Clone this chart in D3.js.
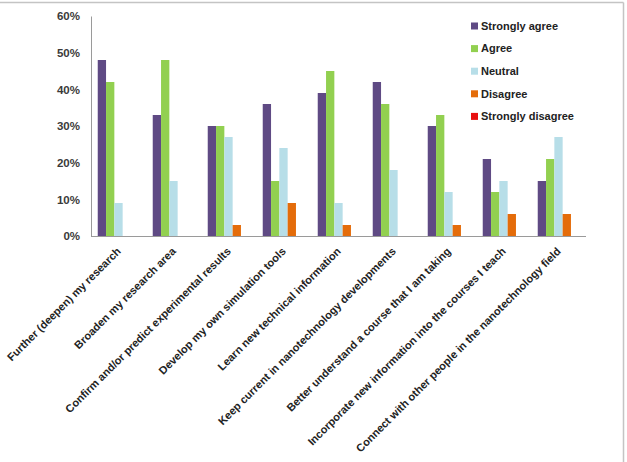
<!DOCTYPE html>
<html>
<head>
<meta charset="utf-8">
<script src="https://cdn.jsdelivr.net/npm/d3@7"></script>
<style>
  body { margin: 0; background: #fff; }
  svg { display: block; font-family: "Liberation Sans", Arial, sans-serif; }
</style>
</head>
<body>
<div id="chart"></div>
<script>
const categories = [
  "Further (deepen) my research",
  "Broaden my research area",
  "Confirm and/or predict experimental results",
  "Develop my own simulation tools",
  "Learn new technical information",
  "Keep current in nanotechnology developments",
  "Better understand a course that I am taking",
  "Incorporate new information into the courses I teach",
  "Connect with other people in the nanotechnology field"
];
const seriesNames = ["Strongly agree", "Agree", "Neutral", "Disagree", "Strongly disagree"];
const seriesColors = ["#5f4a84", "#92d050", "#b7dee8", "#e46c0a", "#e81010"];

const stronglyAgree = [0.48, 0.33, 0.30, 0.36, 0.39, 0.42, 0.30, 0.21, 0.15];
const agree = [0.42, 0.48, 0.30, 0.15, 0.45, 0.36, 0.33, 0.12, 0.21];
const neutral = [0.09, 0.15, 0.27, 0.24, 0.09, 0.18, 0.12, 0.15, 0.27];
const disagree = [0.00, 0.00, 0.03, 0.09, 0.03, 0.00, 0.03, 0.06, 0.06];
const stronglyDisagree = [0, 0, 0, 0, 0, 0, 0, 0, 0];

const yTicks = [0, 0.1, 0.2, 0.3, 0.4, 0.5, 0.6];

const width = 627, height = 462;
const plot = { left: 91, right: 586, top: 16, bottom: 236 };

const seriesValues = [stronglyAgree, agree, neutral, disagree, stronglyDisagree];
const rows = categories.map((c, i) => ({
  name: c,
  values: seriesNames.map((s, k) => ({ series: s, value: seriesValues[k][i] }))
}));

const svg = d3.select("#chart").append("svg")
  .attr("width", width)
  .attr("height", height);

// frame (only top and right edges show in the original)
svg.append("line")
  .attr("x1", 0).attr("x2", 623.5).attr("y1", 2.5).attr("y2", 2.5)
  .attr("stroke", "#c4c4c4").attr("stroke-width", 1.5);
svg.append("line")
  .attr("x1", 623.5).attr("x2", 623.5).attr("y1", 2.5).attr("y2", height)
  .attr("stroke", "#c4c4c4").attr("stroke-width", 1.5);

const x = d3.scaleBand()
  .domain(categories)
  .range([plot.left, plot.right])
  .paddingInner(0.245)
  .paddingOuter(0.1225);

const xs = d3.scaleBand()
  .domain(seriesNames)
  .range([0, x.bandwidth()]);

const y = d3.scaleLinear()
  .domain([0, 0.6])
  .range([plot.bottom, plot.top]);

const color = d3.scaleOrdinal().domain(seriesNames).range(seriesColors);

// y axis
const yAxis = svg.append("g")
  .attr("transform", `translate(${plot.left},0)`)
  .call(d3.axisLeft(y).tickValues(yTicks).tickFormat(d3.format(".0%")).tickSize(0).tickPadding(11));
yAxis.select(".domain").attr("stroke", "#9a9a9a");
yAxis.selectAll("text")
  .attr("fill", "#3a3a3a")
  .style("font-size", "11.5px")
  .style("font-weight", "bold");

// bars
const groups = svg.append("g")
  .selectAll("g")
  .data(rows).enter()
  .append("g")
    .attr("transform", (d) => `translate(${x(d.name)},0)`);

groups.selectAll("rect")
  .data((d) => d.values).enter()
  .append("rect")
    .attr("x", (d) => xs(d.series))
    .attr("width", xs.bandwidth())
    .attr("y", (d) => y(d.value))
    .attr("height", (d) => y(0) - y(d.value))
    .attr("fill", (d) => color(d.series));

// x axis line + rotated labels
svg.append("line")
  .attr("x1", plot.left).attr("x2", plot.right)
  .attr("y1", plot.bottom + 0.5).attr("y2", plot.bottom + 0.5)
  .attr("stroke", "#9a9a9a");

svg.append("g")
  .selectAll("text")
  .data(categories).enter()
  .append("text")
    .attr("transform", (d) => `translate(${x(d) + x.bandwidth() / 2 + 3},${plot.bottom + 16}) rotate(-45)`)
    .attr("text-anchor", "end")
    .attr("fill", "#222")
    .style("font-size", "11px")
    .style("font-weight", "bold")
    .text((d) => d);

// legend
const legend = svg.append("g")
  .attr("transform", "translate(471,26)");

const items = legend.selectAll("g")
  .data(seriesNames).enter()
  .append("g")
    .attr("transform", (d, i) => `translate(0,${i * 22.6})`);

items.append("rect")
  .attr("x", 0).attr("y", -3.5)
  .attr("width", 7).attr("height", 7)
  .attr("fill", (d) => color(d));

items.append("text")
  .attr("x", 10)
  .attr("dy", "0.35em")
  .attr("fill", "#222")
  .style("font-size", "11px")
  .style("font-weight", "bold")
  .text((d) => d);
</script>
</body>
</html>
